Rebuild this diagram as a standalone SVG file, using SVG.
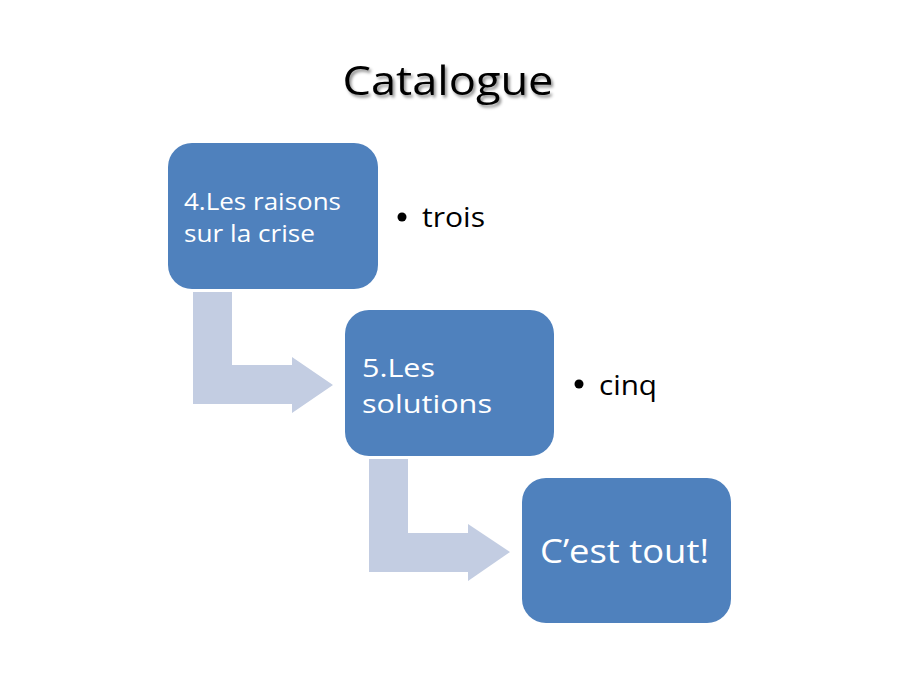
<svg xmlns="http://www.w3.org/2000/svg" width="900" height="675" viewBox="0 0 900 675">
<defs>
<filter id="sh" x="-10%" y="-20%" width="130%" height="150%">
<feDropShadow dx="2" dy="2.5" stdDeviation="1.5" flood-color="#000" flood-opacity="0.45"/>
</filter>
</defs>
<style>
.box{fill:#4F81BD;}
.arr{fill:#C3CDE2;}
.wt{fill:#FFFFFF;font-family:"Open Sans","Noto Sans",sans-serif;}
.bt{fill:#000000;font-family:"Open Sans","Noto Sans",sans-serif;}
</style>
<rect width="900" height="675" fill="#FFFFFF"/>
<g id="title">
<text x="448" y="95" text-anchor="middle" font-family="'Open Sans','Noto Sans',sans-serif" font-size="40" textLength="211" lengthAdjust="spacingAndGlyphs" fill="#000" filter="url(#sh)">Catalogue</text>
</g>
<g id="connectors">
<path class="arr" d="M193,292 L232,292 L232,365 L292,365 L292,357 L333,385 L292,413 L292,404 L193,404 Z"/>
<path class="arr" d="M369,459 L408,459 L408,533 L468,533 L468,524 L510,552 L468,581 L468,572 L369,572 Z"/>
</g>
<g id="node1">
<rect class="box" x="168" y="143" width="210" height="146" rx="24"/>
<text class="wt" x="184" y="210" font-size="23" textLength="157" lengthAdjust="spacingAndGlyphs">4.Les raisons</text>
<text class="wt" x="184" y="242" font-size="23" textLength="131" lengthAdjust="spacingAndGlyphs">sur la crise</text>
</g>
<g id="bullet1">
<circle cx="402" cy="217" r="4.5" fill="#000"/>
<text class="bt" x="422" y="227" font-size="27" textLength="63" lengthAdjust="spacingAndGlyphs">trois</text>
</g>
<g id="node2">
<rect class="box" x="345" y="310" width="209" height="146" rx="24"/>
<text class="wt" x="362" y="377" font-size="26" textLength="73" lengthAdjust="spacingAndGlyphs">5.Les</text>
<text class="wt" x="362" y="413" font-size="26" textLength="130" lengthAdjust="spacingAndGlyphs">solutions</text>
</g>
<g id="bullet2">
<circle cx="579" cy="384" r="4.5" fill="#000"/>
<text class="bt" x="599" y="395" font-size="27" textLength="58" lengthAdjust="spacingAndGlyphs">cinq</text>
</g>
<g id="node3">
<rect class="box" x="522" y="478" width="209" height="145" rx="24"/>
<text class="wt" x="540" y="563" font-size="32" textLength="169" lengthAdjust="spacingAndGlyphs">C’est tout!</text>
</g>
</svg>
